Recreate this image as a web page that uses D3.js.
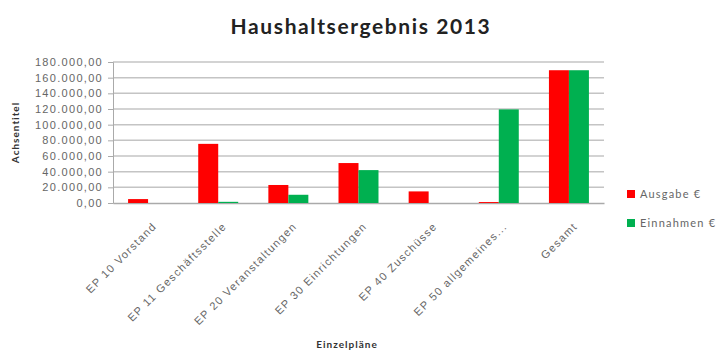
<!DOCTYPE html>
<html>
<head>
<meta charset="utf-8">
<script src="https://cdn.jsdelivr.net/npm/d3@7"></script>
<style>
  body { margin: 0; background: #fff; }
  svg { font-family: Lato, "Open Sans", sans-serif; }
</style>
</head>
<body>
<div id="chart"></div>
<script>
// Data
const categories = ["EP 10 Vorstand", "EP 11 Geschäftsstelle", "EP 20 Veranstaltungen",
  "EP 30 Einrichtungen", "EP 40 Zuschüsse", "EP 50 allgemeines...", "Gesamt"];
const seriesNames = ["Ausgabe €", "Einnahmen €"];
const ausgaben = [5000, 75500, 23000, 51000, 14800, 1200, 169500];
const einnahmen = [0, 1500, 10500, 42000, 0, 119500, 169500];
const yTicks = [0, 20000, 40000, 60000, 80000, 100000, 120000, 140000, 160000, 180000];
const colors = ["#ff0000", "#00b050"];

const width = 721, height = 351;
const margin = { top: 62, right: 117, bottom: 148, left: 113 };

const svg = d3.select("#chart").append("svg")
  .attr("width", width)
  .attr("height", height);

const x = d3.scaleBand()
  .domain(categories)
  .range([margin.left, width - margin.right])
  .paddingInner(0.43)
  .paddingOuter(0.215);

const xSub = d3.scaleBand()
  .domain(seriesNames)
  .range([0, x.bandwidth()]);

const y = d3.scaleLinear()
  .domain([0, 180000])
  .range([height - margin.bottom, margin.top]);

const fmt = v => d3.format(",.2f")(v).replace(/,/g, "X").replace(/\./g, ",").replace(/X/g, ".");

// Gridlines
svg.append("g")
  .selectAll("line")
  .data(yTicks.slice(1))
  .join("line")
  .attr("x1", margin.left)
  .attr("x2", width - margin.right)
  .attr("y1", d => y(d))
  .attr("y2", d => y(d))
  .attr("stroke", "#c4c4c4")
  .attr("stroke-width", 1.5);

// Y axis
const yAxis = svg.append("g")
  .attr("transform", `translate(${margin.left},0)`)
  .call(d3.axisLeft(y).tickValues(yTicks).tickFormat(fmt).tickSize(5).tickPadding(5));
yAxis.select(".domain").attr("stroke", "#aaa");
yAxis.selectAll(".tick line").attr("stroke", "#aaa");
yAxis.selectAll("text")
  .attr("fill", "#666")
  .attr("font-size", 11)
  .attr("letter-spacing", 1.3);

// X axis
const xAxis = svg.append("g")
  .attr("transform", `translate(0,${height - margin.bottom})`)
  .call(d3.axisBottom(x).tickSize(0).tickSizeOuter(0));
xAxis.select(".domain").attr("stroke", "#aaa").attr("stroke-width", 1.5);
xAxis.selectAll("text")
  .attr("fill", "#666")
  .attr("font-size", 11)
  .attr("letter-spacing", 1.3)
  .attr("text-anchor", "end")
  .attr("dx", 0)
  .attr("dy", 0)
  .attr("transform", "translate(7,22) rotate(-45)");

// Bars
const rows = categories.map((c, i) => ({ cat: c, vals: [ausgaben[i], einnahmen[i]] }));
svg.append("g")
  .selectAll("g")
  .data(rows)
  .join("g")
  .attr("transform", d => `translate(${x(d.cat)},0)`)
  .selectAll("rect")
  .data(d => d.vals.map((v, j) => ({ key: seriesNames[j], v, j })))
  .join("rect")
  .attr("x", d => xSub(d.key))
  .attr("width", xSub.bandwidth())
  .attr("y", d => y(d.v))
  .attr("height", d => y(0) - y(d.v))
  .attr("fill", d => colors[d.j]);

// Title
svg.append("text")
  .attr("x", 361)
  .attr("y", 34)
  .attr("text-anchor", "middle")
  .attr("font-size", 21)
  .attr("font-weight", "bold")
  .attr("letter-spacing", 1.6)
  .attr("fill", "#222")
  .text("Haushaltsergebnis 2013");

// Axis titles
svg.append("text")
  .attr("transform", `translate(19,${(margin.top + height - margin.bottom) / 2}) rotate(-90)`)
  .attr("text-anchor", "middle")
  .attr("font-size", 10)
  .attr("font-weight", "bold")
  .attr("letter-spacing", 1)
  .attr("fill", "#333")
  .text("Achsentitel");

svg.append("text")
  .attr("x", 347)
  .attr("y", 348)
  .attr("text-anchor", "middle")
  .attr("font-size", 10)
  .attr("font-weight", "bold")
  .attr("letter-spacing", 1)
  .attr("fill", "#333")
  .text("Einzelpläne");

// Legend
const legend = svg.append("g")
  .selectAll("g")
  .data(seriesNames)
  .join("g")
  .attr("transform", (d, i) => `translate(627,${190 + i * 29})`);
legend.append("rect")
  .attr("width", 8)
  .attr("height", 8)
  .attr("fill", (d, i) => colors[i]);
legend.append("text")
  .attr("x", 13)
  .attr("y", 8)
  .attr("font-size", 11)
  .attr("letter-spacing", 1.2)
  .attr("fill", "#666")
  .text(d => d);
</script>
</body>
</html>
